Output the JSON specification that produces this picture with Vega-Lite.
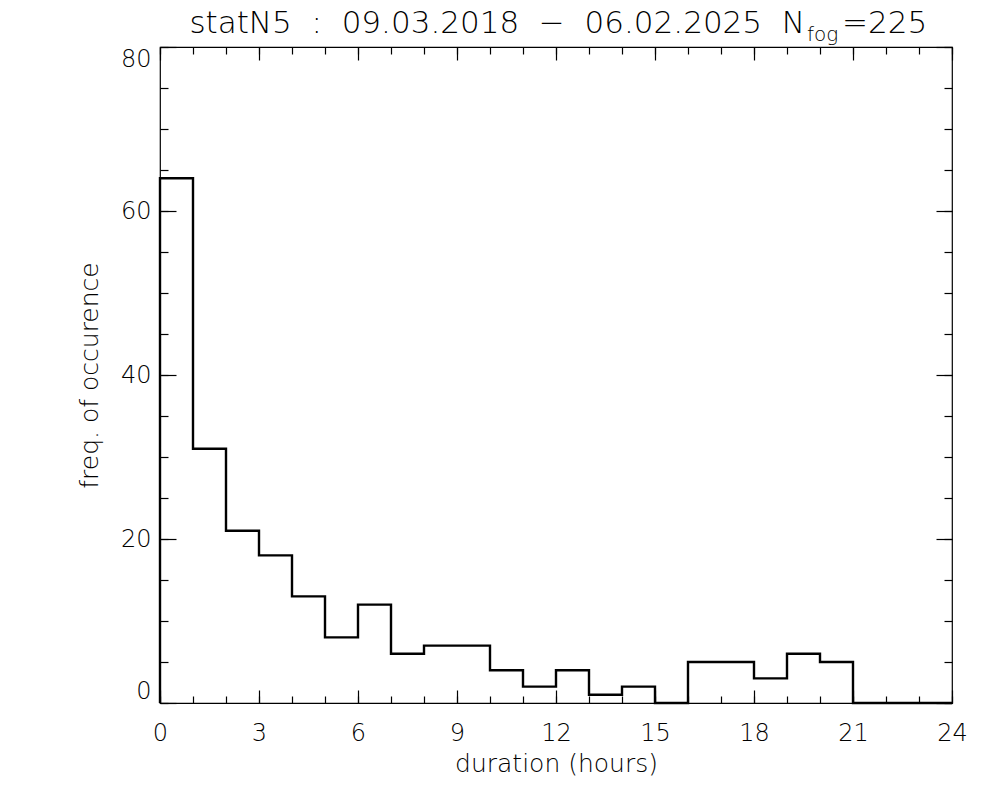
{
  "$schema": "https://vega.github.io/schema/vega-lite/v6.json",
  "width": 792,
  "height": 656,
  "autosize": "none",
  "padding": {"left": 160, "top": 47, "right": 48, "bottom": 97},
  "background": "white",
  "config": {
    "view": {"stroke": "black", "strokeWidth": 1.2},
    "font": "DejaVu Sans",
    "axis": {
      "grid": false,
      "domain": false,
      "labelColor": "black",
      "titleColor": "black",
      "labelFont": "DejaVu Sans",
      "titleFont": "DejaVu Sans",
      "labelFontWeight": 200,
      "titleFontWeight": 200,
      "labelFontSize": 24,
      "titleFontSize": 25,
      "tickColor": "black",
      "tickWidth": 1.2
    }
  },
  "data": {
    "values": [
      {"h": 0, "n": 0},
      {"h": 0, "n": 64},
      {"h": 1, "n": 31},
      {"h": 2, "n": 21},
      {"h": 3, "n": 18},
      {"h": 4, "n": 13},
      {"h": 5, "n": 8},
      {"h": 6, "n": 12},
      {"h": 7, "n": 6},
      {"h": 8, "n": 7},
      {"h": 9, "n": 7},
      {"h": 10, "n": 4},
      {"h": 11, "n": 2},
      {"h": 12, "n": 4},
      {"h": 13, "n": 1},
      {"h": 14, "n": 2},
      {"h": 15, "n": 0},
      {"h": 16, "n": 5},
      {"h": 17, "n": 5},
      {"h": 18, "n": 3},
      {"h": 19, "n": 6},
      {"h": 20, "n": 5},
      {"h": 21, "n": 0},
      {"h": 22, "n": 0},
      {"h": 23, "n": 0},
      {"h": 24, "n": 0}
    ]
  },
  "layer": [
    {
      "mark": {"type": "line", "interpolate": "step-after", "color": "black", "strokeWidth": 2.4},
      "encoding": {
        "order": {"value": null},
        "x": {
          "field": "h", "type": "quantitative",
          "scale": {"domain": [0, 24], "nice": false, "zero": false},
          "axis": {
            "orient": "bottom",
            "values": [0, 3, 6, 9, 12, 15, 18, 21, 24],
            "ticks": false,
            "labelFlush": false,
            "labelPadding": 18,
            "title": "duration (hours)",
            "titlePadding": 6
          }
        },
        "y": {
          "field": "n", "type": "quantitative",
          "scale": {"domain": [0, 80], "nice": false},
          "axis": {
            "orient": "left",
            "values": [0, 20, 40, 60, 80],
            "ticks": false,
            "labelFlush": true,
            "labelPadding": 9,
            "title": "freq. of occurence",
            "titlePadding": 18
          }
        }
      }
    },
    {
      "mark": {"type": "line", "opacity": 0},
      "encoding": {
        "x": {"field": "h", "type": "quantitative",
          "axis": {"orient": "bottom", "values": [0, 3, 6, 9, 12, 15, 18, 21, 24], "tickSize": -13, "labels": false, "title": null}},
        "y": {"field": "n", "type": "quantitative",
          "axis": {"orient": "left", "values": [0, 20, 40, 60, 80], "tickSize": -16, "labels": false, "title": null}}
      }
    },
    {
      "mark": {"type": "line", "opacity": 0},
      "encoding": {
        "x": {"field": "h", "type": "quantitative",
          "axis": {"orient": "bottom", "values": [0, 1, 2, 3, 4, 5, 6, 7, 8, 9, 10, 11, 12, 13, 14, 15, 16, 17, 18, 19, 20, 21, 22, 23, 24], "tickSize": -7, "labels": false, "title": null}},
        "y": {"field": "n", "type": "quantitative",
          "axis": {"orient": "left", "values": [0, 5, 10, 15, 20, 25, 30, 35, 40, 45, 50, 55, 60, 65, 70, 75, 80], "tickSize": -8, "labels": false, "title": null}}
      }
    },
    {
      "mark": {"type": "line", "opacity": 0},
      "encoding": {
        "x": {"field": "h", "type": "quantitative",
          "axis": {"orient": "top", "values": [0, 3, 6, 9, 12, 15, 18, 21, 24], "tickSize": -13, "labels": false, "title": null}},
        "y": {"field": "n", "type": "quantitative",
          "axis": {"orient": "right", "values": [0, 20, 40, 60, 80], "tickSize": -16, "labels": false, "title": null}}
      }
    },
    {
      "mark": {"type": "line", "opacity": 0},
      "encoding": {
        "x": {"field": "h", "type": "quantitative",
          "axis": {"orient": "top", "values": [0, 1, 2, 3, 4, 5, 6, 7, 8, 9, 10, 11, 12, 13, 14, 15, 16, 17, 18, 19, 20, 21, 22, 23, 24], "tickSize": -7, "labels": false, "title": null}},
        "y": {"field": "n", "type": "quantitative",
          "axis": {"orient": "right", "values": [0, 5, 10, 15, 20, 25, 30, 35, 40, 45, 50, 55, 60, 65, 70, 75, 80], "tickSize": -8, "labels": false, "title": null}}
      }
    },
    {
      "data": {"values": [{}]},
      "mark": {"type": "text", "align": "right", "baseline": "alphabetic", "fontSize": 31, "fontWeight": 200, "font": "DejaVu Sans", "color": "black", "text": "statN5\u2007:\u200709.03.2018\u2007−\u200706.02.2025\u2007N"},
      "encoding": {
        "x": {"datum": 19.545, "type": "quantitative", "axis": null},
        "y": {"datum": 81.71, "type": "quantitative", "axis": null}
      }
    },
    {
      "data": {"values": [{}]},
      "mark": {"type": "text", "align": "left", "baseline": "alphabetic", "fontSize": 20, "fontWeight": 200, "font": "DejaVu Sans", "color": "black", "dx": 2, "dy": 8, "text": "fog"},
      "encoding": {
        "x": {"datum": 19.545, "type": "quantitative", "axis": null},
        "y": {"datum": 81.71, "type": "quantitative", "axis": null}
      }
    },
    {
      "data": {"values": [{}]},
      "mark": {"type": "text", "align": "left", "baseline": "alphabetic", "fontSize": 31, "fontWeight": 200, "font": "DejaVu Sans", "color": "black", "dx": 37, "text": "=225"},
      "encoding": {
        "x": {"datum": 19.545, "type": "quantitative", "axis": null},
        "y": {"datum": 81.71, "type": "quantitative", "axis": null}
      }
    }
  ],
  "resolve": {"axis": {"x": "independent", "y": "independent"}}
}
